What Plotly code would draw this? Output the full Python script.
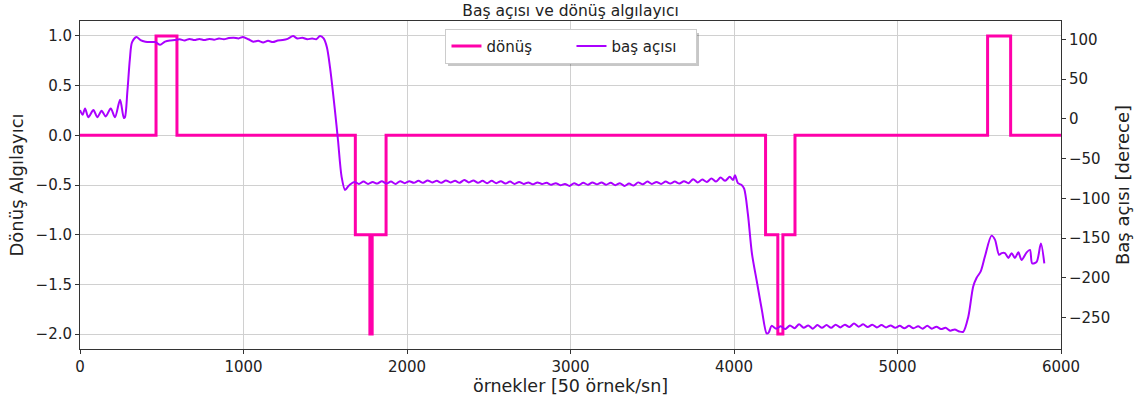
import plotly.graph_objects as go

# ---- turn sensor (step signal): sample where value starts, and value ----
turn_samples = [0, 465, 593, 1684, 1773, 1787, 1872, 4193, 4268, 4299, 4373, 5551, 5692, 6000]
turn_values = [0, 1, 0, -1, -2, -1, 0, -1, -2, -1, 0, 1, 0, 0]

# ---- heading angle (degrees) ----
heading_samples = [
    0, 16, 31, 51, 82, 106, 132, 157, 188, 214, 245, 268, 275, 290, 305, 318, 345,
    370, 400, 430, 460, 490, 520, 550, 580, 610, 640, 670, 700, 730, 760, 790, 820,
    850, 880, 910, 940, 970, 997, 1030, 1060, 1090, 1120, 1150, 1180, 1210, 1240,
    1270, 1303, 1330, 1360, 1390, 1420, 1445, 1468, 1490,
    1510, 1529, 1559, 1578, 1600, 1621, 1640,
    1650, 1678, 1706, 1734, 1762, 1790, 1818, 1846, 1874, 1902, 1930, 1958, 1986,
    2014, 2042, 2070, 2098, 2126, 2154, 2182, 2210, 2238, 2266, 2294, 2322, 2350,
    2378, 2406, 2434, 2462, 2490, 2518, 2546, 2574, 2602, 2630, 2658, 2686, 2714,
    2742, 2770, 2798, 2826, 2854, 2882, 2910, 2938, 2966, 2994, 3022, 3050, 3078,
    3106, 3134, 3162, 3190, 3218, 3246, 3274, 3302, 3330, 3358, 3386, 3414, 3442,
    3470, 3498, 3526, 3554, 3582, 3610, 3638, 3666, 3694, 3722, 3750, 3778, 3806,
    3834, 3862, 3890, 3918, 3946, 3974, 3994, 4006, 4024, 4045,
    4062, 4085, 4110, 4140, 4170, 4200, 4212,
    4230, 4258, 4286, 4314, 4342, 4370, 4398, 4426, 4454, 4482, 4510, 4538, 4566,
    4594, 4622, 4650, 4678, 4706, 4734, 4762, 4790, 4818, 4846, 4874, 4902, 4930,
    4958, 4986, 5014, 5042, 5070, 5098, 5126, 5154, 5182, 5210, 5238, 5266, 5294,
    5322, 5350, 5378, 5402,
    5433, 5463, 5484, 5509, 5535, 5575, 5596, 5621, 5637, 5657, 5678, 5698, 5718,
    5739, 5759, 5790, 5810, 5824, 5851, 5877, 5898,
]
heading_deg = [
    11, 5, 13, 2, 11, 2, 10, 3, 13, 2, 24, 1, 2, 35, 75, 96, 103,
    99, 97, 96.5, 96.5, 93, 97, 98.5, 99, 100, 98.5, 100.5, 99, 100.5, 99, 100.5, 99.5,
    101, 100, 101.5, 102, 101, 103, 100, 97, 98, 96, 98, 96.5, 98.5, 99,
    100.5, 104, 101, 102, 100, 101, 100, 104, 101,
    90, 65, 11, -27, -73, -89.5, -85,
    -83, -79.5, -82, -79, -82, -79.5, -81.5, -78.5, -81.5, -79, -82, -78.5, -81,
    -78.5, -80.5, -78, -80.5, -77.5, -80, -78, -80.5, -77.5, -80, -78, -80.5, -77,
    -80, -77.5, -80.5, -78, -81, -78, -81, -78.5, -81.5, -79, -82, -79.5, -82,
    -80, -82.5, -80, -82, -80.5, -83, -81, -83.5, -82, -84.5, -81, -83.5, -80.5,
    -83, -80, -82.5, -80, -83, -80.5, -83.5, -81, -84.5, -81.5, -84, -80, -82.5,
    -79, -82, -79.5, -82, -79, -81.5, -79, -81.5, -78.5, -81, -76, -80, -76.5,
    -79.5, -75, -79, -74, -78, -73, -77, -71, -81, -83,
    -88, -120, -170, -205, -240, -270, -269,
    -260.5, -264, -261, -264.5, -260, -263.5, -258.5, -263, -260, -264, -259.5, -263, -259.5,
    -263, -259, -262.5, -259, -262, -257.5, -261.5, -258.5, -262, -259, -262.5, -259.5, -262.5,
    -260, -263, -260.5, -263.5, -260.5, -263.5, -261, -264, -260.5, -264, -261.5, -264.5, -263,
    -266.5, -265, -267.5, -268,
    -249, -211, -200, -192, -173, -147, -152, -171, -169, -169, -175, -169, -175,
    -168, -177.5, -168, -165, -182, -180, -157, -182,
]

x_ticks = [0, 1000, 2000, 3000, 4000, 5000, 6000]
left_ticks = [-2.0, -1.5, -1.0, -0.5, 0.0, 0.5, 1.0]
right_ticks = [-250, -200, -150, -100, -50, 0, 50, 100]

PINK = "#ff00aa"
PURPLE = "#aa00ff"
FONT = "DejaVu Sans"
TXT = "#222222"

W, H = 1144, 405
ML, MR, MT, MB = 80, 83, 21, 56
PW, PH = W - ML - MR, H - MT - MB


def px_to_paper(px, py):
    return (px - ML) / PW, 1 - (py - MT) / PH


fig = go.Figure()
fig.add_trace(go.Scatter(
    x=turn_samples, y=turn_values, mode="lines", name="dönüş",
    line=dict(color=PINK, width=3, shape="hv"), yaxis="y",
))
fig.add_trace(go.Scatter(
    x=heading_samples, y=heading_deg, mode="lines", name="baş açısı",
    line=dict(color=PURPLE, width=2, shape="spline", smoothing=0.8), yaxis="y2",
))

axis_common = dict(
    showline=True, linecolor="#333333", linewidth=1,
    ticks="outside", ticklen=4, tickcolor="#333333",
    tickfont=dict(family=FONT, size=15, color=TXT),
    zeroline=False,
)

# legend shadow (matplotlib-style)
sx0, sy0 = px_to_paper(448, 33)
sx1, sy1 = px_to_paper(699, 66)

fig.update_layout(
    width=W, height=H,
    margin=dict(l=ML, r=MR, t=MT, b=MB),
    paper_bgcolor="white", plot_bgcolor="white",
    font=dict(family=FONT, size=15, color=TXT),
    title=dict(text="Baş açısı ve dönüş algılayıcı", x=0.5, xref="paper",
               y=0.974, yref="container", yanchor="middle",
               font=dict(family=FONT, size=15.5, color=TXT)),
    xaxis=dict(
        range=[0, 6000], tickvals=x_ticks, mirror=True,
        showgrid=True, gridcolor="#d0d0d0", gridwidth=1,
        title=dict(text="örnekler [50 örnek/sn]", font=dict(family=FONT, size=17.5, color=TXT), standoff=4),
        **axis_common,
    ),
    yaxis=dict(
        range=[-2.15, 1.15], tickvals=left_ticks, tickformat=".1f",
        showgrid=True, gridcolor="#d0d0d0", gridwidth=1,
        title=dict(text="Dönüş Algılayıcı", font=dict(family=FONT, size=18, color=TXT), standoff=7),
        **axis_common,
    ),
    yaxis2=dict(
        range=[-289.6, 123.0], tickvals=right_ticks, overlaying="y", side="right",
        showgrid=False,
        title=dict(text="Baş açısı [derece]", font=dict(family=FONT, size=18, color=TXT), standoff=7),
        **axis_common,
    ),
    legend=dict(
        orientation="h", x=0.501, xanchor="center", y=0.976, yanchor="top",
        bgcolor="white", bordercolor="#cccccc", borderwidth=1,
        entrywidth=80, entrywidthmode="pixels",
        font=dict(family=FONT, size=15, color=TXT),
    ),
    shapes=[dict(
        type="rect", xref="paper", yref="paper",
        x0=sx0, x1=sx1, y0=sy1, y1=sy0,
        fillcolor="rgba(0,0,0,0.22)", line=dict(width=0), layer="above",
    )],
    showlegend=True,
)

fig.write_html("out.html")
